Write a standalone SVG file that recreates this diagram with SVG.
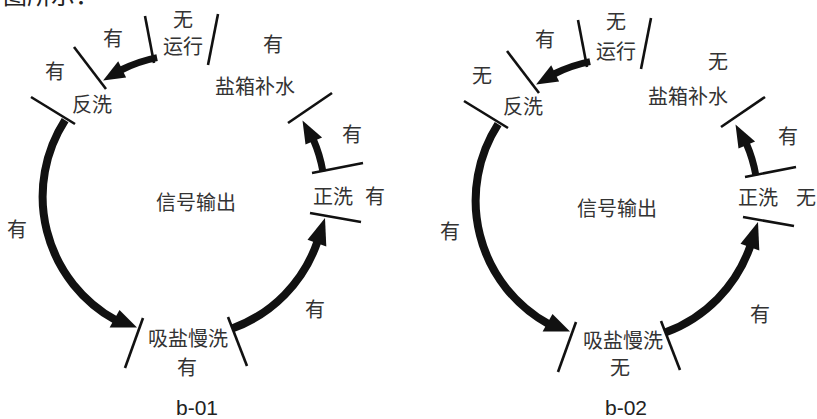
<svg xmlns="http://www.w3.org/2000/svg" width="817" height="419" viewBox="0 0 817 419">
<style>
.t{font-family:"Noto Sans CJK SC","Noto Sans CJK JP",sans-serif;font-size:20px;fill:#333;text-anchor:middle}
.cap{font-family:"Liberation Sans",Arial,sans-serif;font-size:21px;fill:#222;text-anchor:middle}
.tk{stroke:#111;stroke-width:2.6;fill:none;stroke-linecap:butt}
.sh{stroke:#111;fill:none;stroke-linecap:butt}
.hd{fill:#111}
</style>
<rect width="817" height="419" fill="#fff"/>
<text x="3" y="4" style="font-family:'Noto Sans CJK SC',sans-serif;font-size:24px;fill:#222">图所示：</text>

<g id="b01">
  <g id="b01-run">
    <line class="tk" x1="145" y1="16" x2="154" y2="63"/>
    <line class="tk" x1="218" y1="14" x2="208" y2="65"/>
    <text class="t" x="183" y="27">无</text>
    <text class="t" x="183" y="54">运行</text>
    <text class="t" x="113" y="46">有</text>
  </g>
  <g id="b01-backwash">
    <line class="tk" x1="74" y1="47" x2="106" y2="89"/>
    <line class="tk" x1="31" y1="97" x2="75" y2="124"/>
    <text class="t" x="92" y="112">反洗</text>
    <text class="t" x="55" y="79">有</text>
  </g>
  <g id="b01-refill">
    <line class="tk" x1="332" y1="93" x2="288" y2="123"/>
    <text class="t" x="255" y="94">盐箱补水</text>
    <text class="t" x="273" y="52">有</text>
  </g>
  <g id="b01-rinse">
    <line class="tk" x1="312" y1="173" x2="363" y2="163"/>
    <line class="tk" x1="310" y1="213" x2="361" y2="222"/>
    <text class="t" x="333" y="204">正洗</text>
    <text class="t" x="375" y="204">有</text>
    <text class="t" x="352" y="142">有</text>
  </g>
  <g id="b01-brine">
    <line class="tk" x1="143" y1="318" x2="125" y2="368"/>
    <line class="tk" x1="228" y1="317" x2="247" y2="366"/>
    <text class="t" x="188" y="346">吸盐慢洗</text>
    <text class="t" x="187" y="375">有</text>
  </g>
  <g id="b01-labels">
    <text class="t" x="196" y="210">信号输出</text>
    <text class="t" x="17" y="237">有</text>
    <text class="t" x="315" y="317">有</text>
    <text class="cap" x="197" y="415">b-01</text>
  </g>
  <g id="b01-connectors">
    <path class="sh" stroke-width="7" d="M157.1 57.6 A141 141 0 0 0 121 70"/>
    <polygon class="hd" points="103.1,80.5 118.2,61.2 126.1,77.4"/>
    <path class="sh" stroke-width="7" d="M322.9 171.5 A141 141 0 0 0 313.3 139.5"/>
    <polygon class="hd" points="302.5,120.5 322.1,137.4 305.5,144.4"/>
    <path class="sh" stroke-width="8" d="M65.1 120.2 A141 141 0 0 0 115.5 320"/>
    <polygon class="hd" points="137,327.5 109.6,327.4 119.5,310"/>
    <path class="sh" stroke-width="8" d="M232.2 328.5 A141 141 0 0 0 317.5 241.5"/>
    <polygon class="hd" points="325,218 326.3,246.4 307.5,239.7"/>
  </g>
</g>

<g id="b02" transform="translate(433,4)">
  <g id="b02-run">
    <line class="tk" x1="145" y1="16" x2="154" y2="63"/>
    <line class="tk" x1="218" y1="14" x2="208" y2="65"/>
    <text class="t" x="183" y="25">无</text>
    <text class="t" x="183" y="55">运行</text>
    <text class="t" x="112" y="43">有</text>
  </g>
  <g id="b02-backwash">
    <line class="tk" x1="74" y1="47" x2="106" y2="89"/>
    <line class="tk" x1="31" y1="97" x2="75" y2="124"/>
    <text class="t" x="90" y="110">反洗</text>
    <text class="t" x="49" y="79">无</text>
  </g>
  <g id="b02-refill">
    <line class="tk" x1="332" y1="93" x2="288" y2="123"/>
    <text class="t" x="255" y="100">盐箱补水</text>
    <text class="t" x="285" y="65">无</text>
  </g>
  <g id="b02-rinse">
    <line class="tk" x1="312" y1="173" x2="363" y2="163"/>
    <line class="tk" x1="310" y1="213" x2="361" y2="222"/>
    <text class="t" x="325" y="201">正洗</text>
    <text class="t" x="373" y="201">无</text>
    <text class="t" x="355" y="140">有</text>
  </g>
  <g id="b02-brine">
    <line class="tk" x1="143" y1="318" x2="125" y2="368"/>
    <line class="tk" x1="228" y1="317" x2="247" y2="366"/>
    <text class="t" x="190" y="344">吸盐慢洗</text>
    <text class="t" x="187" y="371">无</text>
  </g>
  <g id="b02-labels">
    <text class="t" x="184" y="212">信号输出</text>
    <text class="t" x="17" y="235">有</text>
    <text class="t" x="327" y="318">有</text>
    <text class="cap" x="193" y="411">b-02</text>
  </g>
  <g id="b02-connectors">
    <path class="sh" stroke-width="7" d="M157.1 57.6 A141 141 0 0 0 121 70"/>
    <polygon class="hd" points="103.1,80.5 118.2,61.2 126.1,77.4"/>
    <path class="sh" stroke-width="7" d="M322.9 171.5 A141 141 0 0 0 313.3 139.5"/>
    <polygon class="hd" points="302.5,120.5 322.1,137.4 305.5,144.4"/>
    <path class="sh" stroke-width="8" d="M65.1 120.2 A141 141 0 0 0 115.5 320"/>
    <polygon class="hd" points="137,327.5 109.6,327.4 119.5,310"/>
    <path class="sh" stroke-width="8" d="M232.2 328.5 A141 141 0 0 0 317.5 241.5"/>
    <polygon class="hd" points="325,218 326.3,246.4 307.5,239.7"/>
  </g>
</g>
</svg>
